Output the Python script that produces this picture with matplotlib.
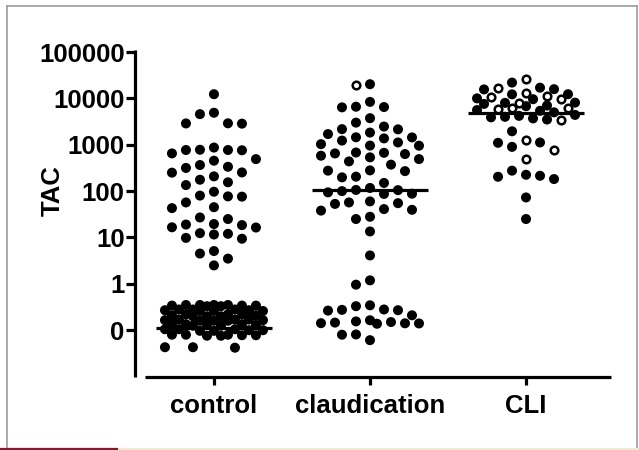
import numpy as np
import matplotlib
matplotlib.use('Agg')
import matplotlib.pyplot as plt
from matplotlib.lines import Line2D

# ---------------- data ----------------
categories = ['control', 'claudication', 'CLI']
ytick_values = [0.1, 1, 10, 100, 1000, 10000, 100000]
ytick_labels = ['0', '1', '10', '100', '1000', '10000', '100000']

control_filled = [
    12300, 4570, 4900, 2880, 2850, 2900, 770, 760, 780, 770, 650, 870,
    453, 490, 365, 316, 335, 253, 208, 250, 176, 155, 135, 97, 76, 77, 80,
    57, 43, 45, 27, 25, 19, 19.5, 18.5, 16.6, 16.4, 12, 9.8, 9.4, 11.6, 12.4,
    4.5, 5.1, 3.5, 2.5,
    0.35, 0.34, 0.35, 0.33, 0.35, 0.34, 0.33, 0.35, 0.34,
    0.28, 0.26, 0.27, 0.28, 0.26, 0.27, 0.28, 0.26,
    0.22, 0.20, 0.21, 0.22, 0.20, 0.21, 0.22, 0.20,
    0.17, 0.16, 0.165, 0.17, 0.16, 0.165, 0.17, 0.16,
    0.135, 0.125, 0.13, 0.135, 0.125, 0.13, 0.135,
    0.105, 0.097, 0.10, 0.105, 0.097, 0.10, 0.105,
    0.080, 0.076, 0.078, 0.080, 0.076, 0.078, 0.080,
    0.043, 0.042, 0.043,
]
control_open = []

claudication_filled = [
    20200, 6400, 6600, 6500, 8400, 3740, 3000, 2170, 2150, 2470,
    1700, 1830, 1440, 1450, 1230, 1370, 1030, 955, 960, 1120,
    650, 535, 680, 670, 437, 372, 490, 580, 630,
    276, 270, 280, 205, 198, 150, 117,
    106, 94, 87, 88, 100, 105,
    57, 53, 60, 55, 39.5, 38, 41, 25, 28, 13.5, 4.1, 1.19, 0.96,
    0.345, 0.33, 0.27, 0.265, 0.275, 0.28, 0.21,
    0.15, 0.14, 0.142, 0.164, 0.138, 0.141, 0.146, 0.155,
    0.081, 0.080, 0.061,
]
claudication_open = [19500]

cli_filled = [
    21900, 15800, 17000, 15600, 12300, 12200, 9600, 10000, 8100, 7600,
    5400, 8000, 7000, 6800, 5600, 5000,
    4000, 3900, 3500, 3700, 4200, 4400,
    1950, 1120, 1100, 900, 276, 214, 182, 204, 225, 73, 25,
]
cli_open = [
    25800, 16500, 10500, 9600, 12900, 11200, 5850, 6300, 8100, 6200,
    3400, 1260, 770, 490,
]

medians = [0.11, 106, 4870]

# ---------------- figure ----------------
W, H = 639, 450
fig = plt.figure(figsize=(W / 100, H / 100), dpi=100)
fig.patch.set_facecolor('white')

ax_left, ax_right, ax_top, ax_bottom = 135, 612, 48, 377
ax = fig.add_axes([ax_left / W, 1 - ax_bottom / H,
                   (ax_right - ax_left) / W, (ax_bottom - ax_top) / H])
ax.set_yscale('log')
ax.set_xlim(-0.506, 2.551)
ax.set_ylim(0.0098, 1.22e5)

for s in ['top', 'right']:
    ax.spines[s].set_visible(False)
for s in ['left', 'bottom']:
    ax.spines[s].set_linewidth(2.3)
    ax.spines[s].set_capstyle('butt')
ax.spines['left'].set_bounds(0.0098, 1.1e5)
ax.spines['bottom'].set_bounds(-0.442, 2.545)

ax.set_yticks(ytick_values)
ax.set_yticklabels(ytick_labels)
ax.yaxis.set_minor_locator(matplotlib.ticker.NullLocator())
ax.set_xticks(range(len(categories)))
ax.set_xticklabels(categories)

fam = ['Liberation Sans', 'DejaVu Sans']
FS = 18.5
for lab in ax.get_yticklabels() + ax.get_xticklabels():
    lab.set_fontfamily(fam)
    lab.set_fontweight('bold')
    lab.set_fontsize(FS)
ax.tick_params(axis='y', direction='out', length=6.5, width=2.3, pad=1)
ax.tick_params(axis='x', direction='out', length=6, width=2.3, pad=6)
ax.set_ylabel('TAC', family=fam, weight='bold', size=FS)
ax.yaxis.set_label_coords((65 - ax_left) / (ax_right - ax_left),
                          (ax_bottom - 191) / (ax_bottom - ax_top))

# ---------------- swarm layout in pixel space ----------------
ppd_x = (ax_right - ax_left) / (ax.get_xlim()[1] - ax.get_xlim()[0])
spacing = 14.0
min_dx, min_dy = 12.0, 13.0


def swarm(vals):
    vals = np.asarray(vals, dtype=float)
    ypx = ax.transData.transform(np.column_stack([np.zeros_like(vals), vals]))[:, 1]
    order = np.argsort(-vals, kind='stable')
    xs = np.zeros_like(vals)
    placed = []
    int_c = [0, -1, 1, -2, 2, -3, 3]
    half_c = [-0.5, 0.5, -1.5, 1.5, -2.5, 2.5, -3.5, 3.5]
    for i in order:
        y = ypx[i]
        best, best_d = None, -1
        chosen = None
        for c in int_c + half_c:
            x = c * spacing
            ok = True
            dmin_here = 1e9
            for px, py in placed:
                dx, dy = abs(x - px), abs(y - py)
                if dx < min_dx and dy < min_dy:
                    ok = False
                dmin_here = min(dmin_here, np.hypot(dx, dy))
            if ok:
                chosen = x
                break
            if dmin_here > best_d:
                best_d, best = dmin_here, x
        if chosen is None:
            chosen = best
        placed.append((chosen, y))
        xs[i] = chosen
    return xs / ppd_x


groups = [(control_filled, control_open),
          (claudication_filled, claudication_open),
          (cli_filled, cli_open)]

for gi, (filled, opened) in enumerate(groups):
    allv = list(filled) + list(opened)
    offs = swarm(allv)
    nf = len(filled)
    xf = gi + offs[:nf]
    xo = gi + offs[nf:]
    ax.scatter(xf, filled, s=52, c='black', edgecolors='none', zorder=3)
    if len(opened):
        ax.scatter(xo, opened, s=30, facecolors='white', edgecolors='black',
                   linewidths=1.8, zorder=4)
    ax.plot([gi - 0.37, gi + 0.37], [medians[gi], medians[gi]],
            color='black', lw=2.3, solid_capstyle='butt', zorder=5)

# ---------------- outer frame ----------------
def fx(p):
    return p / W


def fy(p):
    return 1 - p / H


fig.add_artist(Line2D([fx(7), fx(7)], [fy(6), fy(448)], color='#9c9c9c', lw=1.2))
fig.add_artist(Line2D([fx(7), fx(637)], [fy(6), fy(6)], color='#9c9c9c', lw=1.2))
fig.add_artist(Line2D([fx(637), fx(637)], [fy(6), fy(448)], color='#9c9c9c', lw=1.2))
fig.add_artist(Line2D([fx(0), fx(639)], [fy(448.5), fy(448.5)], color='#efe9d6', lw=1.6))
fig.add_artist(Line2D([fx(0), fx(117)], [fy(448.5), fy(448.5)], color='#7d1d2d', lw=1.6))

fig.savefig('out.png', dpi=100)
